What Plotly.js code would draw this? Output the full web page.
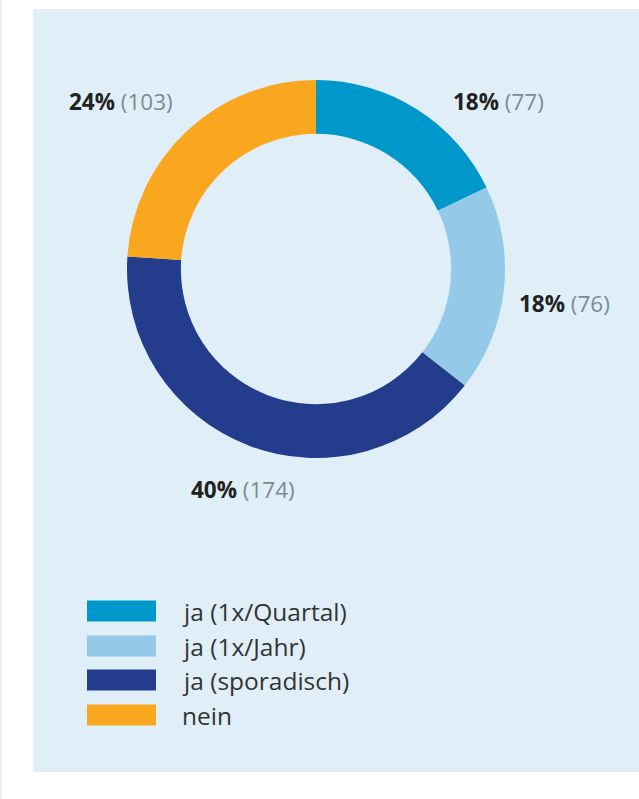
<!DOCTYPE html>
<html><head><meta charset="utf-8">
<script src="https://cdn.plot.ly/plotly-3.0.1.min.js"></script>
<style>html,body{margin:0;padding:0;background:#fff;}#chart{width:639px;height:799px;}</style>
</head><body><div id="chart"></div>
<script>
const categories = ["ja (1x/Quartal)", "ja (1x/Jahr)", "ja (sporadisch)", "nein"];
const counts = [77, 76, 174, 103];
const colors = ["#0098CB", "#94CAE8", "#233C8B", "#F9A71F"];

const W = 639, H = 799;
const px = x => x / W;
const py = y => 1 - y / H;
const total = counts.reduce((a, b) => a + b, 0);
const pct = counts.map(v => Math.round(v / total * 100));

const labelPos = [[499, 101], [564, 303], [243, 489], [121, 101]];
const annotations = counts.map((v, i) => ({
  xref: 'paper', yref: 'paper', x: px(labelPos[i][0]), y: py(labelPos[i][1]),
  xanchor: 'center', yanchor: 'middle', showarrow: false,
  text: '<b>' + pct[i] + '%</b> <span style="color:#7d8a92">(' + v + ')</span>',
  font: {family: 'Open Sans, sans-serif', size: 22.5, color: '#222'}
}));

const shapes = [
  {type: 'rect', xref: 'paper', yref: 'paper', x0: 0, x1: px(2), y0: py(799), y1: py(0), fillcolor: '#e3f0f8', line: {width: 0}, layer: 'below'},
  {type: 'rect', xref: 'paper', yref: 'paper', x0: px(33), x1: 1, y0: py(772), y1: py(9), fillcolor: '#E0EFF7', line: {width: 0}, layer: 'below'}
];
const legY = [611, 646, 680, 715];
categories.forEach((c, i) => {
  shapes.push({type: 'rect', xref: 'paper', yref: 'paper', x0: px(87), x1: px(156), y0: py(legY[i] + 10.5), y1: py(legY[i] - 10.5), fillcolor: colors[i], line: {width: 0}});
  annotations.push({xref: 'paper', yref: 'paper', x: px(180), y: py(legY[i]), xanchor: 'left', yanchor: 'middle', showarrow: false, text: c, font: {family: 'Open Sans, sans-serif', size: 24.5, color: '#333'}});
});

const data = [{
  type: 'pie', values: counts, labels: categories, sort: false, direction: 'clockwise', rotation: 0,
  hole: 0.715, marker: {colors: colors, line: {width: 0}}, textinfo: 'none', hoverinfo: 'label+value+percent',
  domain: {x: [px(127), px(505)], y: [py(458), py(80)]}, showlegend: false
}];

Plotly.newPlot('chart', data, {
  width: W, height: H, margin: {l: 0, r: 0, t: 0, b: 0},
  paper_bgcolor: '#ffffff', plot_bgcolor: 'rgba(0,0,0,0)', showlegend: false,
  shapes: shapes, annotations: annotations
}, {displayModeBar: false, staticPlot: true});
</script></body></html>
